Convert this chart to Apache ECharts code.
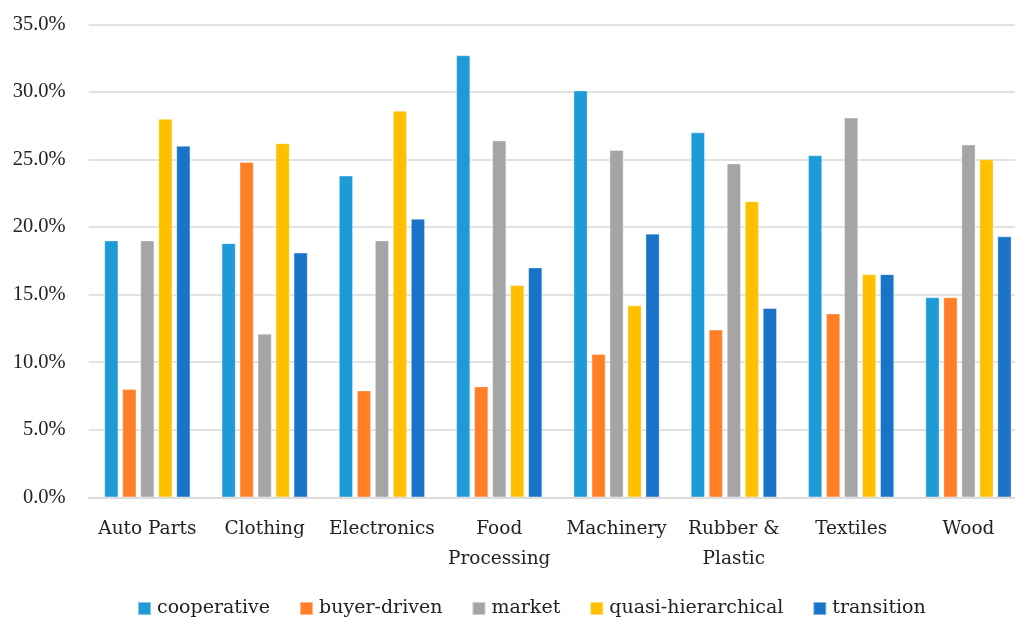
<!DOCTYPE html>
<html>
<head>
<meta charset="utf-8">
<script src="https://cdn.jsdelivr.net/npm/echarts@6/dist/echarts.min.js"></script>
<style>
  html, body { margin: 0; padding: 0; background: #fff; overflow: hidden; }
  /* the drawing is slightly wider than the window so the last group runs to the edge */
  #chart { width: 1028px; height: 618px; }
</style>
</head>
<body>
<div id="chart"></div>
<script>
// Share of governance type by industry (percent)
const categories = ['Auto Parts', 'Clothing', 'Electronics', 'Food\nProcessing', 'Machinery', 'Rubber &\nPlastic', 'Textiles', 'Wood'];
const seriesNames = ['cooperative', 'buyer-driven', 'market', 'quasi-hierarchical', 'transition'];
const cooperative      = [19.0, 18.8, 23.8, 32.7, 30.1, 27.0, 25.3, 14.8];
const buyerDriven      = [8.0, 24.8, 7.9, 8.2, 10.6, 12.4, 13.6, 14.8];
const market           = [19.0, 12.1, 19.0, 26.4, 25.7, 24.7, 28.1, 26.1];
const quasiHierarchical = [28.0, 26.2, 28.6, 15.7, 14.2, 21.9, 16.5, 25.0];
const transition       = [26.0, 18.1, 20.6, 17.0, 19.5, 14.0, 16.5, 19.3];
const yTicks = { min: 0, max: 35, interval: 5 };

const colors = ['#1E9BD7', '#FF7F27', '#A5A5A5', '#FFC000', '#1873C9'];
const values = [cooperative, buyerDriven, market, quasiHierarchical, transition];

const serifWide = '"DejaVu Serif", serif';
const serifNarrow = '"Liberation Serif", serif';

const chart = echarts.init(document.getElementById('chart'), null, { renderer: 'canvas' });

chart.setOption({
  animation: false,
  backgroundColor: '#ffffff',
  color: colors,
  grid: { left: 88.7, top: 24.3, right: 0.9, bottom: 120.7, containLabel: false },
  legend: {
    data: seriesNames,
    left: 132,
    top: 594,
    itemWidth: 13,
    itemHeight: 13,
    itemGap: 29,
    icon: 'rect',
    textStyle: { fontFamily: serifWide, fontSize: 19, color: '#222', padding: [0, 0, 0, 1] }
  },
  xAxis: {
    type: 'category',
    data: categories,
    axisLine: { show: true, lineStyle: { color: '#D9D9D9', width: 1.5 } },
    axisTick: { show: false },
    axisLabel: {
      interval: 0,
      margin: 17,
      fontFamily: serifWide,
      fontSize: 18.5,
      lineHeight: 30,
      color: '#222'
    }
  },
  yAxis: {
    type: 'value',
    min: yTicks.min,
    max: yTicks.max,
    interval: yTicks.interval,
    axisLine: { show: false },
    axisTick: { show: false },
    splitLine: { lineStyle: { color: '#D9D9D9', width: 1.5 } },
    axisLabel: {
      margin: 23,
      fontFamily: serifNarrow,
      fontSize: 20.5,
      color: '#222',
      formatter: v => v.toFixed(1) + '%'
    }
  },
  series: seriesNames.map((name, i) => ({
    name,
    type: 'bar',
    data: values[i],
    barWidth: 14,
    barGap: '28.6%',
    itemStyle: { color: colors[i], borderColor: 'rgba(255,255,255,0.45)', borderWidth: 0.8 }
  }))
});
</script>
</body>
</html>
